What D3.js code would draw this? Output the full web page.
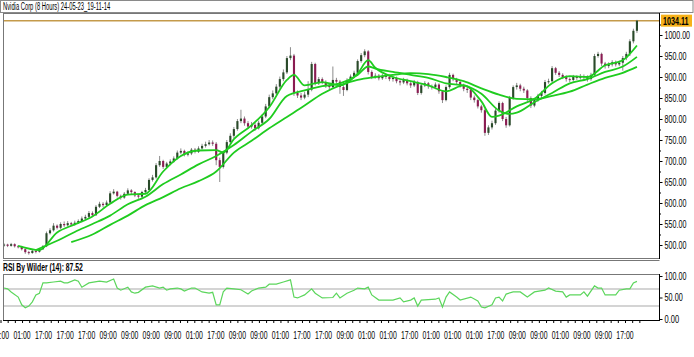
<!DOCTYPE html>
<html>
<head>
<meta charset="utf-8">
<script src="https://d3js.org/d3.v7.min.js"></script>
<style>
body{margin:0;background:#fff;}
text{font-family:"Liberation Sans Narrow","Arial Narrow","Liberation Sans",Arial,sans-serif;fill:#000;}
</style>
</head>
<body>
<script>
// Nvidia Corp, 8 hour bars (open = previous close)
var firstOpen = 499;
var closes = [501,498,502,497,496,490,483,481,486,484,490,497,528,535,546,541,550,547,552,549,
  553,557,563,567,576,571,591,598,595,601,623,627,617,613,622,630,626,618,615,626,
  631,655,661,690,700,686,694,699,706,720,724,715,718,727,722,730,736,740,744,741,
  702,686,720,745,760,776,795,801,790,782,786,778,791,806,830,852,861,877,895,911,
  945,951,862,856,851,858,870,931,885,895,888,880,876,893,889,876,869,893,901,910,
  938,952,961,912,900,903,897,903,900,895,898,890,887,893,885,880,888,862,880,885,
  878,876,882,866,845,876,905,895,888,880,872,869,851,845,830,821,767,780,790,820,
  838,800,785,850,876,880,872,868,850,832,845,855,862,888,890,921,910,905,900,895,
  893,900,898,902,900,895,905,950,955,932,926,930,935,930,934,945,955,985,1010,1034.11];
var highs = [504,503,505,504,500,498,492,486,489,490,493,500,532,540,552,549,554,556,557,555,
  558,561,568,572,581,580,595,603,602,606,628,633,629,620,626,635,633,628,621,629,
  636,659,667,695,712,703,698,704,711,725,730,727,723,731,731,735,741,746,750,749,
  745,708,724,750,766,781,800,822,806,795,793,791,796,811,836,858,868,883,901,918,
  950,971,955,868,862,865,890,936,934,900,899,892,885,925,898,893,880,897,906,915,
  942,957,966,964,916,909,907,908,907,904,903,901,895,898,896,889,893,891,884,890,
  888,882,887,885,869,880,910,908,898,892,884,878,873,856,848,834,825,785,796,825,
  842,841,805,855,880,886,884,877,871,854,849,860,867,893,896,926,924,914,909,904,
  899,905,904,907,906,904,910,955,960,958,936,935,940,939,939,950,960,990,1015,1036];
var lows = [496,495,496,494,492,487,479,477,479,480,482,488,495,525,532,537,538,543,544,545,
  546,550,554,560,564,567,569,588,590,592,599,620,613,608,610,619,621,614,610,612,
  623,629,651,658,686,681,683,690,696,703,716,711,711,714,718,719,727,732,737,736,
  690,650,682,716,741,755,772,790,784,776,777,772,775,787,802,826,847,857,872,890,
  907,940,855,850,845,847,852,866,880,881,883,874,870,872,884,860,855,866,889,897,
  906,934,947,906,895,896,892,893,895,890,889,885,880,883,880,874,876,857,858,876,
  872,870,871,860,838,842,872,890,883,875,866,862,845,839,825,815,760,762,775,786,
  815,795,779,782,846,870,866,862,843,826,828,841,850,858,884,887,905,900,895,889,
  888,889,893,894,895,889,891,901,946,926,920,921,925,925,926,915,940,950,980,1005];

// moving averages: bar index -> value
var fastIdx = [4,10,15,20,25,30,35,40,45,50,55,60,62,65,70,75,80,82,85,90,95,100,103,105,110,115,120,125,130,135,138,140,145,150,155,160,165,170,175,179];
var fastVal = [498,488,530,549,568,598,620,622,675,712,725,726,720,752,785,828,893,905,880,888,880,908,940,922,900,890,880,866,880,842,805,808,830,848,885,902,900,928,940,975];
var medIdx = [9,15,20,25,30,35,40,45,50,55,60,65,70,75,80,85,90,95,100,103,105,110,115,120,125,130,135,140,143,145,150,155,160,165,170,175,179];
var medVal = [488,510,531,550,570,597,615,645,668,692,712,738,770,800,855,868,878,885,905,925,920,912,905,898,885,880,860,820,812,815,840,862,885,895,912,925,948];
var slowIdx = [19,25,30,35,40,45,50,55,60,65,70,75,80,85,90,95,100,105,110,115,120,125,130,135,140,145,150,155,160,165,170,175,179];
var slowVal = [507,525,548,570,595,614,635,652,675,720,748,778,805,832,860,880,893,900,905,909,907,900,890,873,858,848,847,855,865,882,898,910,924];

// RSI by Wilder (14)
var rsiIdx = [0,1,2,4,5,6,7,8,9,10,11,12,14,16,17,18,20,21,22,24,27,29,31,32,33,35,36,37,38,40,42,44,45,46,47,49,50,51,53,54,
  56,58,59,60,61,62,63,65,67,69,70,72,74,75,77,79,81,82,83,85,87,88,90,93,94,95,97,99,100,102,
  103,104,106,110,112,113,115,116,117,118,122,123,124,125,126,128,129,132,134,135,136,138,139,140,141,142,144,146,148,150,
  153,154,156,158,159,160,163,164,165,167,168,169,170,173,174,176,177,178,179];
var rsiVal = [72,70,63,51,33,26,30,40,56,60,84,84,86,88,84,84,91,88,74,84,88,86,93,72,67,74,63,60,62,74,77,72,74,67,70,72,70,65,72,72,
  63,60,62,33,33,63,72,70,68,58,65,72,74,81,81,86,91,51,49,56,70,60,49,50,60,49,60,67,72,70,
  74,56,44,44,49,40,44,49,30,44,46,49,28,51,63,51,44,51,42,28,26,33,49,51,42,58,63,63,51,63,
  67,72,65,63,51,56,56,63,53,77,72,72,56,56,67,70,70,84,87.52];

var timeLabels = ["01:00","01:00","17:00","17:00","17:00","09:00","09:00","09:00","09:00","01:00",
  "17:00","09:00","09:00","01:00","17:00","17:00","09:00","01:00","01:00","17:00",
  "01:00","01:00","01:00","17:00","09:00","09:00","01:00","09:00","09:00","17:00"];
var priceTicks = [500,550,600,650,700,750,800,850,900,950,1000];
var rsiTicks = [0,50,100];
var rsiLevels = [30,70];
var title = "Nvidia Corp (8 Hours) 24-05-23_19-11-14";

var W = 694, H = 357;
var left = 3, right = 659, mainTop = 13, mainBot = 258, rsiTop = 274, rsiBot = 320;
var N = closes.length;
var bars = closes.map(function(c, i){
  return {i: i, o: i ? closes[i-1] : firstOpen, h: highs[i], l: lows[i], c: c};
});

var svg = d3.select("body").append("svg").attr("width", W).attr("height", H);

// squeeze a text horizontally to perChar px per character
function squeeze(sel, perChar){
  sel.each(function(){
    var t = d3.select(this);
    var w = this.getComputedTextLength();
    var sx = (t.text().length * perChar) / w;
    var x0 = +t.attr("x") || 0;
    t.attr("x", x0 / sx).attr("transform", (t.attr("transform") || "") + " scale(" + sx + ",1)");
  });
}

var x = d3.scaleBand().domain(d3.range(N)).range([left, 638]).paddingInner(0.4);
var xc = function(i){ return x(Math.round(i)) + x.bandwidth()/2 + (i - Math.round(i)) * x.step(); };
var y = d3.scaleLinear().domain([500, 1000]).range([245, 35]);
var yr = d3.scaleLinear().domain([0, 100]).range([319, 276]);

// title bar
svg.append("rect").attr("x", 0.5).attr("y", 0.5).attr("width", W - 1.5).attr("height", 12)
  .attr("fill", "#fff").attr("stroke", "#8a8a8a");
svg.append("text").attr("x", 3).attr("y", 10).attr("font-size", 10).text(title).call(squeeze, 2.75);

// panels
svg.append("rect").attr("x", left + 0.5).attr("y", mainTop + 0.5).attr("width", right - left).attr("height", mainBot - mainTop)
  .attr("fill", "#fff").attr("stroke", "#777");
svg.append("rect").attr("x", left + 0.5).attr("y", rsiTop + 0.5).attr("width", right - left).attr("height", rsiBot - rsiTop)
  .attr("fill", "#fff").attr("stroke", "#777");
svg.append("line").attr("x1", left).attr("x2", right + 0.5).attr("y1", mainBot + 2.5).attr("y2", mainBot + 2.5).attr("stroke", "#777");

svg.append("defs").append("clipPath").attr("id", "clipMain").append("rect")
  .attr("x", left + 1).attr("y", mainTop + 1).attr("width", right - left - 1).attr("height", mainBot - mainTop - 1);
var main = svg.append("g").attr("clip-path", "url(#clipMain)");

// last price line
var last = closes[N - 1];
main.append("line").attr("x1", left).attr("x2", right).attr("y1", y(last)).attr("y2", y(last))
  .attr("stroke", "#c49a4a").attr("stroke-width", 1.5);

// candles
var cg = main.append("g");
cg.selectAll("line.wick").data(bars).join("line").attr("class", "wick")
  .attr("x1", function(d){ return xc(d.i); }).attr("x2", function(d){ return xc(d.i); })
  .attr("y1", function(d){ return y(d.h); }).attr("y2", function(d){ return y(d.l); })
  .attr("stroke", "#8c8c8c").attr("stroke-width", 1);
cg.selectAll("rect.body").data(bars).join("rect").attr("class", "body")
  .attr("x", function(d){ return x(d.i); }).attr("width", x.bandwidth())
  .attr("y", function(d){ return y(Math.max(d.o, d.c)); })
  .attr("height", function(d){ return Math.max(1, Math.abs(y(d.o) - y(d.c))); })
  .attr("fill", function(d){ return d.c >= d.o ? "#2a4a2a" : "#8a1c52"; });

// moving averages
var maLine = d3.line().x(function(d){ return xc(d[0]); }).y(function(d){ return y(d[1]); }).curve(d3.curveMonotoneX);
[[slowIdx, slowVal], [medIdx, medVal], [fastIdx, fastVal]].forEach(function(s){
  main.append("path").datum(d3.zip(s[0], s[1])).attr("d", maLine)
    .attr("fill", "none").attr("stroke", "#1fcc1f").attr("stroke-width", 1.8);
});

// price axis
var ya = svg.append("g").attr("transform", "translate(" + (right + 0.5) + ",0)")
  .call(d3.axisRight(y).tickValues(priceTicks).tickFormat(d3.format(".2f")).tickSize(3).tickPadding(2));
ya.select(".domain").remove();
ya.selectAll("text").attr("font-size", 10).call(squeeze, 3.65);
svg.append("g").selectAll("line").data(d3.range(500, 1030, 25)).join("line")
  .attr("x1", right).attr("x2", right + 2).attr("y1", function(d){ return y(d) + 0.5; }).attr("y2", function(d){ return y(d) + 0.5; })
  .attr("stroke", "#000");
svg.append("line").attr("x1", right + 0.5).attr("x2", right + 0.5).attr("y1", mainTop).attr("y2", mainBot + 1).attr("stroke", "#000");

// last price box
svg.append("rect").attr("x", right + 2).attr("y", y(last) - 6).attr("width", 31).attr("height", 12).attr("fill", "#f7b21a");
svg.append("text").attr("x", right + 4).attr("y", y(last) + 4).attr("font-size", 10).attr("font-weight", "bold")
  .text(d3.format(".2f")(last)).call(squeeze, 3.65);

// RSI panel
svg.append("text").attr("x", 3).attr("y", 271).attr("font-size", 10).attr("font-weight", "bold")
  .text("RSI By Wilder (14): " + d3.format(".2f")(rsiVal[rsiVal.length - 1])).call(squeeze, 3.2);
svg.append("g").selectAll("line").data(rsiLevels).join("line")
  .attr("x1", left + 1).attr("x2", right).attr("y1", function(d){ return yr(d); }).attr("y2", function(d){ return yr(d); })
  .attr("stroke", "#d4d4d4").attr("stroke-width", 2);
svg.append("path").datum(d3.zip(rsiIdx, rsiVal))
  .attr("d", d3.line().x(function(d){ return xc(d[0]); }).y(function(d){ return yr(d[1]); }))
  .attr("fill", "none").attr("stroke", "#5cd65c").attr("stroke-width", 1.2);
var ra = svg.append("g").attr("transform", "translate(" + (right + 0.5) + ",0)")
  .call(d3.axisRight(yr).tickValues(rsiTicks).tickFormat(d3.format(".2f")).tickSize(3).tickPadding(2));
ra.select(".domain").remove();
ra.selectAll("text").attr("font-size", 10).call(squeeze, 3.65);
svg.append("line").attr("x1", right + 0.5).attr("x2", right + 0.5).attr("y1", rsiTop).attr("y2", rsiBot + 1).attr("stroke", "#000");
svg.append("line").attr("x1", left).attr("x2", right + 1).attr("y1", rsiBot + 0.5).attr("y2", rsiBot + 0.5).attr("stroke", "#000");

// time axis
var xt = d3.scaleLinear().domain([0, timeLabels.length - 1]).range([0.5, 625]);
svg.append("g").selectAll("line").data(d3.range(0, timeLabels.length * 3)).join("line")
  .attr("x1", function(d){ return xt(d / 3) + 0.5; }).attr("x2", function(d){ return xt(d / 3) + 0.5; })
  .attr("y1", rsiBot).attr("y2", rsiBot + 3).attr("stroke", "#000");
svg.append("g").selectAll("text").data(timeLabels).join("text")
  .attr("x", function(d, i){ return xt(i); }).attr("y", 339).attr("font-size", 10).attr("text-anchor", "middle")
  .text(function(d){ return d; }).call(squeeze, 3.45);
</script>
</body>
</html>
